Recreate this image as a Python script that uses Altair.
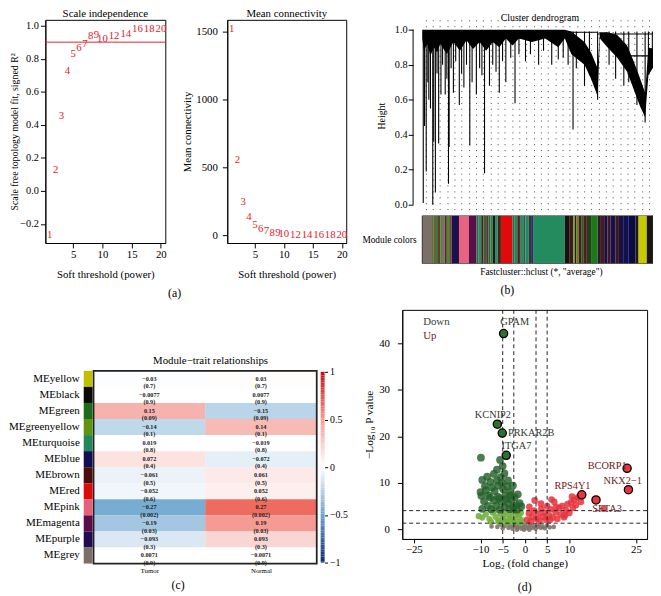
import altair as alt
import numpy as np
import pandas as pd

FONT = "Liberation Serif"
RED = "#e4202b"

# ---------------- (a) soft-threshold scan ----------------
powers = [1, 2, 3, 4, 5, 6, 7, 8, 9, 10, 12, 14, 16, 18, 20]
sft_fit = [-0.266, 0.124, 0.455, 0.727, 0.83, 0.864, 0.89, 0.935, 0.94, 0.92, 0.935, 0.95, 0.98, 0.98, 0.98]
mean_conn = [1522, 551, 246, 130, 72, 43, 29, 18, 12, 8, 4, 2, 1.2, 0.8, 0.5]
fit_cut = [0.9]
a_xticks = [5, 10, 15, 20]
aL_yticks = [-0.2, 0.0, 0.2, 0.4, 0.6, 0.8, 1.0]
aR_yticks = [0, 500, 1000, 1500]

# ---------------- (b) dendrogram (leaf-order units) ----------------
canopy_x = [10, 15, 25, 35, 45, 55, 65, 85, 105, 125, 145, 165, 185, 205, 225, 245, 265, 285, 305, 345,
            385, 425, 445, 465, 485, 505, 525, 545, 552, 575, 605, 635, 655, 675, 690, 700, 720]
canopy_low = [0.95, 0.88, 0.92, 0.85, 0.90, 0.87, 0.92, 0.86, 0.93, 0.88, 0.94, 0.89, 0.93, 0.88, 0.93, 0.90,
              0.95, 0.91, 0.95, 0.93, 0.95, 0.90, 0.95, 0.86, 0.83, 0.80, 0.72, 0.62, 0.95, 0.90, 0.84, 0.76,
              0.66, 0.56, 0.50, 0.74, 0.80]
canopy_top = [1.0] * 23 + [0.99, 0.96, 0.93, 0.87, 0.78, 0.985, 0.985, 0.97, 0.91, 0.82, 0.72, 0.64, 0.9, 0.88]
merge_x0 = [445, 545, 640, 700]
merge_x1 = [545, 720, 720, 720]
merge_h = [0.985, 0.975, 0.85, 0.89]
strand_x = [13, 17, 22, 30, 42, 45, 50, 60, 67, 80, 90, 92, 105, 123, 137, 155, 175, 200, 215, 245,
            265, 293, 325, 365, 405, 425, 470, 505, 545, 625, 665, 690,
            27, 35, 55, 72, 85, 98, 112, 130, 145, 162, 185, 192, 225, 235, 255, 280, 305, 340, 380, 440,
            455, 480, 520, 580, 600, 640, 700, 712]
strand_low = [0.01, 0.45, 0.19, 0.6, 0.0, 0.36, 0.07, 0.35, 0.63, 0.63, 0.12, 0.33, 0.64, 0.57, 0.67, 0.34,
              0.63, 0.18, 0.68, 0.64, 0.7, 0.58, 0.82, 0.8, 0.8, 0.83, 0.43, 0.68, 0.6, 0.68, 0.57, 0.47,
              0.7, 0.55, 0.75, 0.8, 0.72, 0.78, 0.82, 0.75, 0.8, 0.7, 0.78, 0.74, 0.8, 0.76, 0.82, 0.84,
              0.86, 0.86, 0.88, 0.84, 0.8, 0.78, 0.74, 0.8, 0.72, 0.7, 0.78, 0.8]
guide_x = list(range(20, 721, 22))
bar_edges = [10, 40, 45, 52, 58, 65, 70, 78, 85, 92, 100, 122, 152, 175, 182, 190, 197, 205, 212, 218,
             225, 232, 240, 250, 285, 292, 300, 308, 318, 325, 335, 342, 350, 445, 460, 470, 475, 480, 487, 495,
             503, 510, 525, 545, 555, 565, 575, 585, 600, 610, 625, 640, 660, 670, 695, 725]
bar_colors = ["#7b6f67", "#3c6e2a", "#7a5a3a", "#2c7a3c", "#6b3a2a", "#4a7a2a", "#7b6f67", "#5a2a2a", "#4a8a2a", "#6a4a3a",
              "#1a1050", "#e9627f", "#5c0d47", "#2a6a4a", "#2a8a6a", "#5a1a1a", "#2a6a3a", "#6a2a2a", "#1a6a4a", "#3a7a3a",
              "#1a1a1a", "#2a8a6a", "#3a2a1a", "#e00a0a", "#2a6a4a", "#1a8a5a", "#5a1a1a", "#2a8a6a", "#3a5a3a", "#1a8a6a",
              "#4a2a2a", "#1a3a6a", "#238b5e", "#1a1010", "#3a1a1a", "#7aaa1a", "#2a1a1a", "#6a7a1a", "#4a1a1a", "#2a5a2a",
              "#5a1a1a", "#2a3a1a", "#1a7a1a", "#2a1a2a", "#4a1a1a", "#1a1040", "#3a1a2a", "#1a1050", "#3a1a1a", "#1a1045",
              "#101050", "#0a0a45", "#1a1a1a", "#c8c800", "#1a1515"]

# ---------------- (c) module-trait heatmap ----------------
modules = ["MEyellow", "MEblack", "MEgreen", "MEgreenyellow", "MEturquoise", "MEblue",
           "MEbrown", "MEred", "MEpink", "MEmagenta", "MEpurple", "MEgrey"]
module_colors = ["#c0c000", "#0a0a0a", "#1d6b1d", "#5e9410", "#23865c", "#0e0d55",
                 "#4b0c0c", "#dd0a0a", "#e6607e", "#5a0b48", "#200c50", "#7b6f67"]
traits = ["Tumor", "Normal"]
cor_tumor = [-0.03, -0.0077, 0.15, -0.14, 0.019, 0.072, -0.061, -0.052, -0.27, -0.19, -0.093, 0.0071]
cor_normal = [0.03, 0.0077, -0.15, 0.14, -0.019, -0.072, 0.061, 0.052, 0.27, 0.19, 0.093, -0.0071]
p_tumor = [0.7, 0.9, 0.09, 0.1, 0.8, 0.4, 0.5, 0.6, 0.002, 0.03, 0.3, 0.9]
p_normal = [0.7, 0.9, 0.09, 0.1, 0.8, 0.4, 0.5, 0.6, 0.002, 0.03, 0.3, 0.9]
cbar_ticks = [-1, -0.5, 0, 0.5, 1]

# ---------------- (d) volcano ----------------
dg_x = [-9.9, -5.6, -5.0, -6.3, -7.0, -8.5, -4.6, -9.6, -6.3, -3.8, -2.7, -5.2, -9.0, -7.4, -4.9, -3.4, -10.0,
        -8.2, -6.1, -4.5, -2.3, -1.6, -9.2, -7.0, -5.4, -3.8, -1.2, -8.3, -6.5, -4.6, -2.7, -0.8, -9.6, -7.6,
        -5.6, -3.4, -1.8, -6.8, -8.8, -4.0, -7.8, -3.0, -5.8, -2.0, -4.2, -6.0, -5.4, -3.2, -7.8, -9.8]
dg_y = [15.4, 14.9, 13.6, 12.8, 11.9, 11.3, 12.0, 10.6, 10.5, 10.5, 9.4, 10.0, 9.3, 9.0, 8.6, 8.0, 8.0, 7.3,
        7.0, 7.2, 6.9, 7.5, 6.0, 6.2, 5.9, 5.6, 5.6, 5.0, 5.0, 4.8, 4.7, 4.9, 4.4, 4.3, 4.2, 4.3, 4.2, 8.2,
        8.4, 9.2, 10.2, 6.3, 6.6, 5.2, 6.5, 9.4, 11.2, 7.3, 6.8, 7.2]
lg_x = [-10.4, -9.6, -8.8, -8.0, -7.3, -6.6, -6.0, -5.5, -4.9, -4.4, -3.9, -3.5, -3.0, -2.6, -2.1, -1.7,
        -1.3, -0.9, -0.6, -5.8, -4.2, -2.9, -7.6, -6.9, -1.0, -3.3, -4.7, -2.4, -1.5, -5.2]
lg_y = [2.8, 2.5, 3.2, 2.2, 3.6, 2.7, 1.9, 3.3, 2.4, 3.7, 1.8, 2.9, 3.6, 2.1, 3.0, 1.6, 2.6, 3.5, 1.9,
        1.5, 1.4, 1.5, 1.6, 3.9, 1.4, 2.3, 3.0, 3.9, 3.3, 2.0]
rd_x = [0.5, 0.9, 1.3, 1.7, 2.1, 2.2, 2.6, 3.0, 3.3, 3.7, 4.1, 4.4, 4.8, 5.0, 5.4, 5.8, 6.2, 6.6, 6.9, 7.3,
        7.7, 8.1, 8.4, 8.8, 9.2, 9.6, 10.0, 10.4, 10.8, 11.1, 11.5, 11.9, 12.3, 12.6, 1.0, 3.6, 5.6, 7.0,
        9.0, 10.6, 17.7, 6.0]
rd_y = [2.0, 3.4, 1.7, 2.7, 4.0, 6.2, 2.2, 3.3, 1.8, 4.4, 2.7, 3.6, 2.0, 5.0, 3.0, 4.3, 2.5, 5.9, 3.6, 2.2,
        4.6, 3.2, 5.0, 2.6, 4.1, 5.4, 3.5, 5.8, 4.6, 6.3, 5.2, 6.8, 7.1, 5.9, 4.8, 5.5, 2.0, 4.8, 3.0, 7.0,
        4.4, 6.4]
gy_x = [-6.2, -5.5, -5.0, -4.6, -4.1, -3.7, -3.2, -2.8, -2.4, -2.0, -1.6, -1.2, -0.8, -0.4, 0.0, 0.4, 0.8,
        1.2, 1.6, 2.0, 2.4, 2.8, 3.2, 3.6, 4.0, 4.5, 5.0, 5.6, -7.5, 6.5, -0.2, 1.0, -1.8]
gy_y = [0.5, 1.0, 0.2, 0.7, 1.1, 0.3, 0.8, 0.1, 0.6, 1.0, 0.3, 0.7, 0.1, 0.5, 0.9, 0.2, 0.6, 1.0, 0.3, 0.7,
        0.1, 0.5, 0.9, 0.3, 0.6, 0.2, 0.8, 0.4, 0.6, 0.5, -0.1, -0.1, -0.1]
gene_names = ["GPAM", "KCNIP2", "PRKAR2B", "ITGA7", "BCORP1", "NKX2−1", "RPS4Y1", "SFTA3"]
gene_dir = ["Down", "Down", "Down", "Down", "Up", "Up", "Up", "Up"]
gene_x = [-4.8, -6.2, -5.1, -4.2, 23.0, 23.3, 12.8, 16.0]
gene_y = [42.1, 22.6, 20.7, 15.9, 13.1, 8.5, 7.4, 6.3]
label_x = [-2.3, -7.2, 1.4, -1.9, 18.5, 22.0, 10.7, 18.5]
label_y = [44.6, 24.5, 20.7, 17.8, 13.5, 10.4, 9.3, 4.4]
fc_cuts = [-5, -2.5, 2.5, 5]
p_cuts = [1.3, 4.0]
legend_text = ["Down", "Up"]
legend_x = [-22.9, -22.9]
legend_y = [44.6, 41.6]
v_xticks = [-25, -10, -5, 0, 5, 10, 25]
v_yticks = [0, 10, 20, 30, 40]

BOX = alt.ViewBackground(stroke="black", strokeWidth=1)

# ====================== panel (a) ======================
df_a = pd.DataFrame({"power": powers, "fit": sft_fit, "k": mean_conn, "lab": [str(p) for p in powers]})
xs_a = alt.Scale(domain=[0.24, 20.76], nice=False, zero=False)
ax_a = alt.Axis(values=a_xticks, title="Soft threshold (power)", tickSize=5, labelPadding=1,
                titlePadding=9, labelFontSize=11, titleFontSize=11)

yL = alt.Y("fit:Q", scale=alt.Scale(domain=[-0.315, 1.035], nice=False, zero=False),
           axis=alt.Axis(values=aL_yticks, format=".1f", title="Scale free topology model fit, signed R²",
                         tickSize=5, labelPadding=2, titlePadding=0, labelFontSize=10.5, titleFontSize=10))
aL = alt.layer(
    alt.Chart(pd.DataFrame({"fit": fit_cut})).mark_rule(color=RED, strokeWidth=1).encode(y=yL),
    alt.Chart(df_a).mark_text(color=RED, font=FONT, fontSize=11).encode(
        x=alt.X("power:Q", scale=xs_a, axis=ax_a), y=yL, text="lab:N"),
).properties(width=122, height=227, view=BOX,
             title=alt.TitleParams("Scale independence", fontSize=11, offset=1, frame="group"))

yR = alt.Y("k:Q", scale=alt.Scale(domain=[-58, 1587], nice=False, zero=False),
           axis=alt.Axis(values=aR_yticks, format="d", title="Mean connectivity", tickSize=5,
                         labelPadding=5, titlePadding=3, labelFontSize=11, titleFontSize=11))
aR = alt.Chart(df_a).mark_text(color=RED, font=FONT, fontSize=11).encode(
    x=alt.X("power:Q", scale=xs_a, axis=ax_a), y=yR, text="lab:N"
).properties(width=121, height=227, view=BOX,
             title=alt.TitleParams("Mean connectivity", fontSize=11, offset=1, frame="group"))

A = alt.hconcat(aL, aR, spacing=14).properties(
    title=alt.TitleParams("(a)", orient="bottom", offset=8, fontSize=12, dx=-4))

# ====================== panel (b) ======================
DX0, DX1 = -18, 714
xs_d = alt.Scale(domain=[DX0, DX1], nice=False, zero=False)
ys_d = alt.Scale(domain=[-0.039, 1.056], nice=False, zero=False)
ax_d = alt.Axis(values=guide_x, grid=True, gridDash=[1, 5], gridColor="#444", gridWidth=1,
                labels=False, ticks=False, domain=False, title=None)
ay_d = alt.Axis(values=[0, 0.2, 0.4, 0.6, 0.8, 1.0], format=".1f", title="Height", domain=False,
                tickSize=5, labelPadding=1, titlePadding=8, labelFontSize=10.5, titleFontSize=10)


def dxe(f="x"):
    return alt.X(f + ":Q", scale=xs_d, axis=ax_d)


def dye(f="low"):
    return alt.Y(f + ":Q", scale=ys_d, axis=ay_d)


df_can = pd.DataFrame({"x": canopy_x, "low": canopy_low, "top": canopy_top})
df_str = pd.DataFrame({"x": strand_x, "low": strand_low, "top": [0.99] * len(strand_x)})
df_mrg = pd.DataFrame({"x": merge_x0, "x1": merge_x1, "low": merge_h})
df_axl = pd.DataFrame({"x": [DX0], "low": [0.0], "top": [1.0]})
dendro = alt.layer(
    alt.Chart(df_can).mark_area(color="black", clip=True).encode(x=dxe(), y=dye(), y2="top:Q"),
    alt.Chart(df_str).mark_rule(color="black", strokeWidth=1.1, clip=True).encode(x=dxe(), y=dye(), y2="top:Q"),
    alt.Chart(df_mrg).mark_rule(color="black", strokeWidth=1.2, clip=True).encode(x=dxe(), x2="x1:Q", y=dye()),
    alt.Chart(df_axl).mark_rule(color="black", strokeWidth=1).encode(x=dxe(), y=dye(), y2="top:Q"),
).properties(width=244, height=195,
             title=alt.TitleParams("Cluster dendrogram", fontSize=10, offset=-3.5, frame="group", dx=7))

df_bar = pd.DataFrame({"x": bar_edges[:-1], "x1": bar_edges[1:], "col": bar_colors,
                       "y0": [0] * len(bar_colors), "y1": [1] * len(bar_colors)})
ax_cb = alt.Axis(labels=False, ticks=False, domain=False, grid=False, titleX=130,
                 title='Fastcluster::hclust (*, "average")', titleFontSize=9.5, titlePadding=3)
ay_cb = alt.Axis(labels=False, ticks=False, domain=False, grid=False, title="Module colors",
                 titleAngle=0, titleAlign="right", titleBaseline="middle", titlePadding=-3,
                 titleFontSize=9.5)
ys_cb = alt.Scale(domain=[0, 1], nice=False, zero=False)
df_barbox = pd.DataFrame({"x": [bar_edges[0]], "x1": [DX1], "y0": [0], "y1": [1]})
cbar = alt.layer(
    alt.Chart(df_bar).mark_rect(clip=True).encode(
        x=alt.X("x:Q", scale=xs_d, axis=ax_cb), x2="x1:Q",
        y=alt.Y("y0:Q", scale=ys_cb, axis=ay_cb), y2="y1:Q",
        color=alt.Color("col:N", scale=None)),
    alt.Chart(df_barbox).mark_rect(fill="transparent", fillOpacity=0, stroke="#333", strokeWidth=1,
                                   clip=True).encode(
        x=alt.X("x:Q", scale=xs_d, axis=ax_cb), x2="x1:Q",
        y=alt.Y("y0:Q", scale=ys_cb, axis=ay_cb), y2="y1:Q"),
).properties(width=244, height=49)

B = alt.vconcat(dendro, cbar, spacing=4).properties(
    title=alt.TitleParams("(b)", orient="bottom", offset=9, fontSize=12))

top = alt.hconcat(A, B, spacing=13)

# ====================== panel (c) ======================
HX0, HX1 = -0.4317, 2.0
SW0, SW1 = -0.0881, -0.0088
xs_h = alt.Scale(domain=[HX0, HX1], nice=False, zero=False)
ax_h = alt.Axis(values=[0.5, 1.5], labelExpr="datum.value < 1 ? 'Tumor' : 'Normal'", domain=False,
                ticks=False, labelPadding=3, labelFontSize=7, title=None, grid=False)
ys_h = alt.Scale(domain=[0, 15.796], nice=False, zero=False)


def hx(f):
    return alt.X(f + ":Q", scale=xs_h, axis=ax_h)


def hy(f):
    return alt.Y(f + ":Q", scale=ys_h, axis=None)


def fmt(v):
    return str(v).replace("-", "−")


n = len(modules)
rows = pd.DataFrame({"module": modules, "color": module_colors,
                     "y0": [n - 1 - i for i in range(n)], "y1": [n - i for i in range(n)],
                     "ym": [n - 0.5 - i for i in range(n)],
                     "s0": [SW0] * n, "s1": [SW1] * n})
cells = []
for j, (cors, ps) in enumerate([(cor_tumor, p_tumor), (cor_normal, p_normal)]):
    for i in range(n):
        cells.append({"x0": j, "x1": j + 1, "xm": j + 0.5, "y0": n - 1 - i, "y1": n - i,
                      "ym": n - 0.5 - i, "cor": cors[i], "trait": traits[j],
                      "lab": fmt(cors[i]) + "\n(" + fmt(ps[i]) + ")"})
cells = pd.DataFrame(cells)
box = pd.DataFrame({"x0": [0], "x1": [2], "y0": [0], "y1": [n]})

heat = alt.layer(
    alt.Chart(cells).mark_rect().encode(
        x=hx("x0"), x2="x1:Q", y=hy("y0"), y2="y1:Q",
        color=alt.Color("cor:Q", legend=None,
                        scale=alt.Scale(domain=[-0.27, -0.025, 0.025, 0.27],
                                        range=["#77acd3", "#ffffff", "#ffffff", "#ee6b5f"],
                                        interpolate="rgb", clamp=True))),
    alt.Chart(cells).mark_text(font=FONT, fontSize=6.3, fontWeight="bold", lineBreak="\n",
                               lineHeight=7.5, color="#1a1a1a").encode(x=hx("xm"), y=hy("ym"), text="lab:N"),
    alt.Chart(box).mark_rect(fill="transparent", fillOpacity=0, stroke="#222", strokeWidth=1.8).encode(
        x=hx("x0"), x2="x1:Q", y=hy("y0"), y2="y1:Q"),
    alt.Chart(rows).mark_rect().encode(
        x=hx("s0"), x2="s1:Q", y=hy("y0"), y2="y1:Q", color=alt.Color("color:N", scale=None)),
    alt.Chart(rows).mark_text(align="right", baseline="middle", font=FONT, fontSize=11.2, dx=-4,
                              color="black").encode(x=hx("s0"), y=hy("ym"), text="module:N"),
).properties(
    width=276, height=258,
    title=alt.TitleParams("Module−trait relationships", fontSize=11, offset=-57, frame="group", dx=30))

cb_levels = np.linspace(-1, 1, 81)
cbd = pd.DataFrame({"v": cb_levels, "v0": np.clip(cb_levels - 0.0125, -1, 1),
                    "v1": np.clip(cb_levels + 0.0125, -1, 1)})
hcb = alt.Chart(cbd).mark_rect().encode(
    y=alt.Y("v0:Q", scale=alt.Scale(domain=[-1.0103, 1.6495], nice=False, zero=False),
            axis=alt.Axis(orient="right", values=cbar_ticks, format="~g", tickSize=3, labelPadding=2,
                          labelFontSize=10, domain=False, title=None, grid=False)),
    y2="v1:Q",
    color=alt.Color("v:Q", legend=None,
                    scale=alt.Scale(domain=[-1, -0.5, 0, 0.5, 1],
                                    range=["#0a2a6e", "#6a9fcf", "#ffffff", "#f29a94", "#c40d12"],
                                    interpolate="rgb")),
).properties(width=4, height=258)

C = alt.hconcat(heat, hcb, spacing=3).resolve_scale(color="independent").properties(
    title=alt.TitleParams("(c)", orient="bottom", offset=7, fontSize=12))

# ====================== panel (d) ======================
xs_v = alt.Scale(domain=[-27.6, 27.5], nice=False, zero=False)
ys_v = alt.Scale(domain=[-2.1, 47.2], nice=False, zero=False)
ax_v = alt.Axis(values=v_xticks, title="Log₂ (fold change)", tickSize=4, labelPadding=1,
                titlePadding=3, labelFontSize=11, titleFontSize=11.5)
ay_v = alt.Axis(values=v_yticks, title="−Log₁₀ P value", tickSize=5, labelPadding=8,
                titlePadding=4, labelFontSize=11, titleFontSize=11.5)


def vx(f):
    return alt.X(f + ":Q", scale=xs_v, axis=ax_v)


def vy(f):
    return alt.Y(f + ":Q", scale=ys_v, axis=ay_v)


def pts(xs, ys, color, size, opacity):
    return alt.Chart(pd.DataFrame({"lfc": xs, "nlp": ys})).mark_circle(
        color=color, size=size, opacity=opacity).encode(x=vx("lfc"), y=vy("nlp"))


genes = pd.DataFrame({"gene": gene_names, "dir": gene_dir, "lfc": gene_x, "nlp": gene_y,
                      "lx": label_x, "ly": label_y})
g_down = genes[genes["dir"] == "Down"]
g_up = genes[genes["dir"] == "Up"]
leg = pd.DataFrame({"txt": legend_text, "lx": legend_x, "ly": legend_y})

volcano = alt.layer(
    pts(gy_x, gy_y, "#7d736c", 22, 0.9),
    pts(lg_x, lg_y, "#76b041", 40, 0.9),
    pts(dg_x, dg_y, "#24602a", 62, 0.82),
    pts(rd_x, rd_y, "#e8333c", 46, 0.85),
    alt.Chart(pd.DataFrame({"lfc": fc_cuts})).mark_rule(strokeDash=[4, 3], color="#222", strokeWidth=1).encode(
        x=vx("lfc")),
    alt.Chart(pd.DataFrame({"nlp": p_cuts})).mark_rule(strokeDash=[4, 3], color="#222", strokeWidth=1).encode(
        y=vy("nlp")),
    alt.Chart(g_down).mark_circle(color="#2f6f2f", size=70, opacity=1, stroke="black", strokeWidth=1.3).encode(
        x=vx("lfc"), y=vy("nlp")),
    alt.Chart(g_up).mark_circle(color="#e8343c", size=70, opacity=1, stroke="black", strokeWidth=1.3).encode(
        x=vx("lfc"), y=vy("nlp")),
    alt.Chart(g_down).mark_text(font=FONT, fontSize=10.5, color="#2f3a2f").encode(
        x=vx("lx"), y=vy("ly"), text="gene:N"),
    alt.Chart(g_up).mark_text(font=FONT, fontSize=10.5, color="#6e2020").encode(
        x=vx("lx"), y=vy("ly"), text="gene:N"),
    alt.Chart(leg.iloc[[0]]).mark_text(font=FONT, fontSize=11, align="left", color="#3a3a3a").encode(
        x=vx("lx"), y=vy("ly"), text="txt:N"),
    alt.Chart(leg.iloc[[1]]).mark_text(font=FONT, fontSize=11, align="left", color="#6e2020").encode(
        x=vx("lx"), y=vy("ly"), text="txt:N"),
).properties(width=249, height=233, view=BOX,
             title=alt.TitleParams("(d)", orient="bottom", offset=13, fontSize=12))

bottom = alt.hconcat(C, volcano, spacing=15).resolve_scale(color="independent")

chart = alt.vconcat(top, bottom, spacing=10).resolve_scale(color="independent").properties(
    padding={"left": 0, "top": -6, "right": 0, "bottom": 0}
).configure_view(
    strokeWidth=0
).configure_axis(
    labelFont=FONT, titleFont=FONT, labelColor="black", titleColor="black", tickColor="black",
    domainColor="black", titleFontWeight="normal", grid=False
).configure_title(font=FONT, fontWeight="normal", color="black", anchor="middle")

chart.save("out.html", embed_options={"renderer": "svg", "actions": False})
